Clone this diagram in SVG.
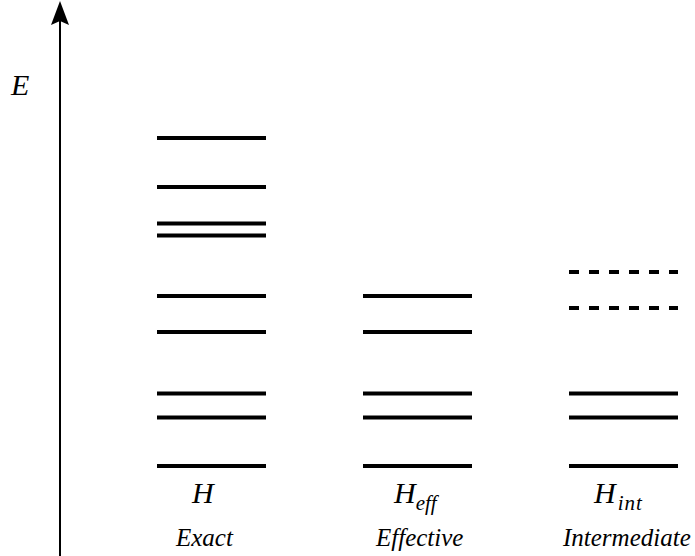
<svg xmlns="http://www.w3.org/2000/svg" width="695" height="556" viewBox="0 0 695 556">
  <style>
    .lvl { stroke: #000; stroke-width: 4; fill: none; }
    .dash { stroke-dasharray: 10 10; }
    .lbl { font-family: "Liberation Serif", "Times New Roman", serif; font-style: italic; fill: #000; }
    .big { font-size: 30px; }
    .sub { font-size: 21px; }
    .cap { font-size: 25px; }
  </style>
  <rect width="695" height="556" fill="#fff"/>

  <!-- energy axis -->
  <g id="axis">
    <line x1="60" y1="556" x2="60" y2="18" stroke="#000" stroke-width="2"/>
    <polygon points="60,1 69,25 60,21 51,25" fill="#000"/>
    <text class="lbl big" x="11" y="95">E</text>
  </g>

  <!-- exact spectrum -->
  <g id="exact">
    <g class="lvl">
      <line x1="157" y1="138" x2="266" y2="138"/>
      <line x1="157" y1="187" x2="266" y2="187"/>
      <line x1="157" y1="223.5" x2="266" y2="223.5"/>
      <line x1="157" y1="235.5" x2="266" y2="235.5"/>
      <line x1="157" y1="296" x2="266" y2="296"/>
      <line x1="157" y1="332" x2="266" y2="332"/>
      <line x1="157" y1="393.5" x2="266" y2="393.5"/>
      <line x1="157" y1="417.5" x2="266" y2="417.5"/>
      <line x1="157" y1="466" x2="266" y2="466"/>
    </g>
    <text class="lbl big" x="192" y="503">H</text>
    <text class="lbl cap" x="176" y="546">Exact</text>
  </g>

  <!-- effective spectrum -->
  <g id="effective">
    <g class="lvl">
      <line x1="363" y1="296" x2="472" y2="296"/>
      <line x1="363" y1="332" x2="472" y2="332"/>
      <line x1="363" y1="393.5" x2="472" y2="393.5"/>
      <line x1="363" y1="417.5" x2="472" y2="417.5"/>
      <line x1="363" y1="466" x2="472" y2="466"/>
    </g>
    <text class="lbl big" x="394" y="503">H<tspan class="sub" dy="7">eff</tspan></text>
    <text class="lbl cap" x="376" y="546">Effective</text>
  </g>

  <!-- intermediate spectrum -->
  <g id="intermediate">
    <g class="lvl">
      <line class="dash" x1="569" y1="272" x2="678" y2="272"/>
      <line class="dash" x1="569" y1="308" x2="678" y2="308"/>
      <line x1="569" y1="393.5" x2="678" y2="393.5"/>
      <line x1="569" y1="417.5" x2="678" y2="417.5"/>
      <line x1="569" y1="466" x2="678" y2="466"/>
    </g>
    <text class="lbl big" x="594" y="503">H<tspan class="sub" dx="2" dy="7" letter-spacing="1">int</tspan></text>
    <text class="lbl cap" x="563" y="546">Intermediate</text>
  </g>
</svg>
